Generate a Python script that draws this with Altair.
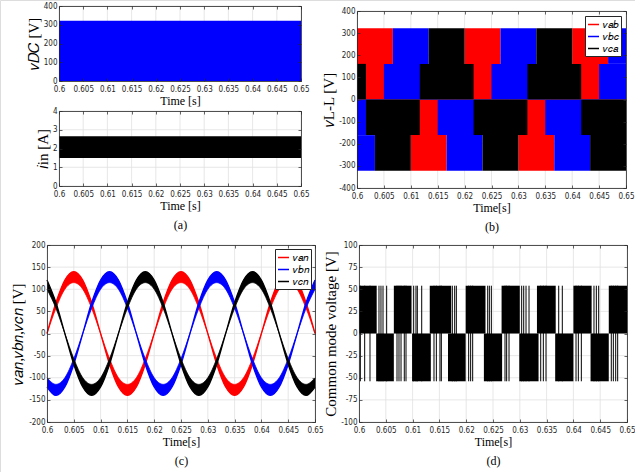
import altair as alt
import pandas as pd

FIG_W, FIG_H = 635, 472
INK = "#262626"
GRID = "#e1e1e1"
RED, BLUE, BLACK = "#ff0000", "#0000ff", "#000000"
LABEL_FONT = "Liberation Sans Narrow, DejaVu Sans Condensed, Liberation Sans"
SERIF = "Liberation Serif"

T_START, T_END = 0.6, 0.65
TIME_TICKS = [0.6, 0.605, 0.61, 0.615, 0.62, 0.625, 0.63, 0.635, 0.64, 0.645, 0.65]

# (a) DC side
VDC_BAND = [0, 322]
IIN_BAND = [1.5, 2.65]
VDC_TICKS = [0, 100, 200, 300, 400]
IIN_TICKS = [0, 1, 2, 3, 4]

# (b) line-to-line voltages: switching envelopes as time segments
LL_NAMES = ["𝑣𝑎𝑏", "𝑣𝑏𝑐", "𝑣𝑐𝑎"]
VAB_T0 = [0.6, 0.6, 0.60833, 0.61, 0.61833, 0.62, 0.62833, 0.63, 0.63833, 0.64, 0.64833]
VAB_T1 = [0.60833, 0.60667, 0.61833, 0.61667, 0.62833, 0.62667, 0.63833, 0.63667, 0.64833, 0.64667, 0.65]
VAB_LO = [0, 161, -161, -322, 0, 161, -161, -322, 0, 161, -161]
VAB_HI = [161, 322, 0, -161, 161, 322, 0, -161, 161, 322, 0]
VBC_T0 = [0.6, 0.6, 0.605, 0.60667, 0.615, 0.61667, 0.625, 0.62667, 0.635, 0.63667, 0.645, 0.64667]
VBC_T1 = [0.605, 0.60333, 0.615, 0.61333, 0.625, 0.62333, 0.635, 0.63333, 0.645, 0.64333, 0.65, 0.65]
VBC_LO = [-161, -322, 0, 161, -161, -322, 0, 161, -161, -322, 0, 161]
VBC_HI = [0, -161, 161, 322, 0, -161, 161, 322, 0, -161, 161, 322]
VCA_T0 = [0.6, 0.60167, 0.60333, 0.61167, 0.61333, 0.62167, 0.62333, 0.63167, 0.63333, 0.64167, 0.64333]
VCA_T1 = [0.60167, 0.61167, 0.61, 0.62167, 0.62, 0.63167, 0.63, 0.64167, 0.64, 0.65, 0.65]
VCA_LO = [0, -161, -322, 0, 161, -161, -322, 0, 161, -161, -322]
VCA_HI = [161, 0, -161, 161, 322, 0, -161, 161, 322, 0, -161]
LL_TICKS = [-400, -300, -200, -100, 0, 100, 200, 300, 400]

# (c) phase voltages: outer and inner ripple envelopes
PH_NAMES = ["𝑣𝑎𝑛", "𝑣𝑏𝑛", "𝑣𝑐𝑛"]
PH_T = [0.6, 0.60167, 0.60333, 0.605, 0.60667, 0.60833, 0.61, 0.61167, 0.61333, 0.615,
        0.61667, 0.61833, 0.62, 0.62167, 0.62333, 0.625, 0.62667, 0.62833, 0.63, 0.63167,
        0.63333, 0.635, 0.63667, 0.63833, 0.64, 0.64167, 0.64333, 0.645, 0.64667, 0.64833, 0.65]
VAN_OUT = [0, 70, 121, 140, 121, 70, 0, -70, -121, -140, -121, -70, 0, 70, 121, 140,
           121, 70, 0, -70, -121, -140, -121, -70, 0, 70, 121, 140, 121, 70, 0]
VAN_IN = [0, 57, 100, 115, 100, 57, 0, -57, -100, -115, -100, -57, 0, 57, 100, 115,
          100, 57, 0, -57, -100, -115, -100, -57, 0, 57, 100, 115, 100, 57, 0]
VBN_OUT = [-121, -140, -121, -70, 0, 70, 121, 140, 121, 70, 0, -70, -121, -140, -121, -70,
           0, 70, 121, 140, 121, 70, 0, -70, -121, -140, -121, -70, 0, 70, 121]
VBN_IN = [-100, -115, -100, -57, 0, 57, 100, 115, 100, 57, 0, -57, -100, -115, -100, -57,
          0, 57, 100, 115, 100, 57, 0, -57, -100, -115, -100, -57, 0, 57, 100]
VCN_OUT = [121, 70, 0, -70, -121, -140, -121, -70, 0, 70, 121, 140, 121, 70, 0, -70,
           -121, -140, -121, -70, 0, 70, 121, 140, 121, 70, 0, -70, -121, -140, -121]
VCN_IN = [100, 57, 0, -57, -100, -115, -100, -57, 0, 57, 100, 115, 100, 57, 0, -57,
          -100, -115, -100, -57, 0, 57, 100, 115, 100, 57, 0, -57, -100, -115, -100]
PH_TICKS = [-200, -150, -100, -50, 0, 50, 100, 150, 200]

# (d) common-mode voltage: solid blocks and isolated switching pulses
CM_LEVEL = 54
CM_UP_T0 = [0.6, 0.6065, 0.6132, 0.6199, 0.6266, 0.6332, 0.64, 0.6466]
CM_UP_T1 = [0.6033, 0.6098, 0.6172, 0.6236, 0.63, 0.6367, 0.6434, 0.65]
CM_DN_T0 = [0.6032, 0.6099, 0.6166, 0.6233, 0.6299, 0.6366, 0.6432]
CM_DN_T1 = [0.6065, 0.6134, 0.6199, 0.6267, 0.6335, 0.64, 0.6466]
CM_PULSES = [0.60025, 0.60106, 0.60205, 0.60373, 0.6041, 0.60448, 0.60516, 0.60709,
             0.60746, 0.60784, 0.60845, 0.60877, 0.6102, 0.61063, 0.61088, 0.6117,
             0.61399, 0.61443, 0.61511, 0.61536, 0.61741, 0.61785, 0.61816, 0.62046,
             0.62083, 0.62121, 0.62401, 0.62432, 0.62469, 0.62724, 0.62755, 0.62799,
             0.63035, 0.63073, 0.63116, 0.63172, 0.6339, 0.63439, 0.63489, 0.63726,
             0.63793, 0.64049, 0.64092, 0.64148, 0.64384, 0.64428, 0.64472, 0.64707,
             0.64745, 0.64789, 0.64826]
CM_TICKS = [-100, -75, -50, -25, 0, 25, 50, 75, 100]


def tick_axis(orient, offset, values):
    return alt.Axis(orient=orient, offset=offset, values=values, labels=False,
                    ticks=True, tickSize=3, tickColor=INK, tickWidth=0.7,
                    domain=True, domainColor=INK, domainWidth=0.8,
                    grid=False, title=None, zindex=2)


class Panel:
    """One MATLAB-style axes box placed at fixed pixel bounds of the figure."""

    def __init__(self, left, right, bottom, top, ydom, yticks):
        self.box = (left, right, bottom, top)
        self.yticks = yticks
        self.ydom = ydom
        self.xs = alt.Scale(domain=[T_START, T_END], range=[left, right], nice=False, zero=False)
        self.ys = alt.Scale(domain=ydom, range=[bottom, top], nice=False, zero=False)

    def X(self, field, axis=None):
        return alt.X(field, type="quantitative", scale=self.xs, axis=axis, title=None)

    def Y(self, field, axis=None):
        return alt.Y(field, type="quantitative", scale=self.ys, axis=axis, title=None, stack=None)

    def x_axis(self, title, pad):
        return alt.Axis(orient="bottom", offset=self.box[2] - FIG_H, values=TIME_TICKS,
                        labelExpr="toString(datum.value)", ticks=False, tickSize=0,
                        domain=False, grid=False, labelFont=LABEL_FONT, labelFontSize=8,
                        labelColor=INK, labelPadding=4, labelFlush=False, labelOverlap=False,
                        title=title, titleFont=SERIF, titleFontSize=12, titleFontWeight="normal",
                        titleColor="black", titlePadding=pad, titleLineHeight=19)

    def y_axis(self, title, pad):
        return alt.Axis(orient="left", offset=-self.box[0], values=self.yticks,
                        labelExpr="toString(datum.value)", ticks=False, tickSize=0,
                        domain=False, grid=False, labelFont=LABEL_FONT, labelFontSize=8,
                        labelColor=INK, labelPadding=2, labelFlush=False, labelOverlap=False,
                        title=title, titleFont=SERIF, titleFontSize=15, titleFontWeight="normal",
                        titleColor="black", titlePadding=pad)

    def frame_layers(self):
        left, right, bottom, top = self.box
        xg = pd.DataFrame({"t": TIME_TICKS, "lo": self.ydom[0], "hi": self.ydom[1]})
        yg = pd.DataFrame({"v": self.yticks, "lo": T_START, "hi": T_END})
        xgrid = alt.Chart(xg).mark_rule(color=GRID, strokeWidth=0.8).encode(
            x=self.X("t", tick_axis("top", -bottom, TIME_TICKS)),
            y=self.Y("lo", tick_axis("right", left - FIG_W, self.yticks)),
            y2="hi",
        )
        ygrid = alt.Chart(yg).mark_rule(color=GRID, strokeWidth=0.8).encode(
            y=self.Y("v", tick_axis("left", -right, self.yticks)),
            x=self.X("lo", tick_axis("bottom", top - FIG_H, TIME_TICKS)),
            x2="hi",
        )
        return [xgrid, ygrid]

    def compose(self, data_layers):
        return alt.layer(*self.frame_layers(), *data_layers).resolve_scale(
            x="shared", y="shared").resolve_axis(x="independent", y="independent")


def legend_at(x, y):
    return alt.Legend(title=None, orient="none", legendX=x, legendY=y, direction="vertical",
                      fillColor="white", strokeColor=INK, padding=2, cornerRadius=0,
                      symbolType="stroke", symbolSize=121, symbolStrokeWidth=1.5,
                      labelFont=SERIF, labelFontSize=10, labelColor="black",
                      labelOffset=3, rowPadding=0)


# ---- (a) top: DC-link voltage
pa1 = Panel(59, 301, 81, 6, [0, 400], VDC_TICKS)
a1_df = pd.DataFrame({"t0": [T_START], "t1": [T_END], "lo": [VDC_BAND[0]], "hi": [VDC_BAND[1]]})
a1 = pa1.compose([
    alt.Chart(a1_df).mark_rect(color=BLUE).encode(
        x=pa1.X("t0", pa1.x_axis("Time [s]", 2)), x2="t1",
        y=pa1.Y("lo", pa1.y_axis("𝑣𝐷𝐶 [V]", 2)), y2="hi")
])

# ---- (a) bottom: input current
pa2 = Panel(59, 301, 186, 111, [0, 4], IIN_TICKS)
a2_df = pd.DataFrame({"t0": [T_START], "t1": [T_END], "lo": [IIN_BAND[0]], "hi": [IIN_BAND[1]]})
a2 = pa2.compose([
    alt.Chart(a2_df).mark_rect(color=BLACK).encode(
        x=pa2.X("t0", pa2.x_axis(["Time [s]", "(a)"], 2)), x2="t1",
        y=pa2.Y("lo", pa2.y_axis("𝑖in [A]", 2)), y2="hi")
])

# ---- (b) line-to-line voltages, drawn red -> blue -> black
pb = Panel(357, 626, 188, 11, [-400, 400], LL_TICKS)
b_layers = []
for i, (color, t0s, t1s, los, his) in enumerate([
    (RED, VAB_T0, VAB_T1, VAB_LO, VAB_HI),
    (BLUE, VBC_T0, VBC_T1, VBC_LO, VBC_HI),
    (BLACK, VCA_T0, VCA_T1, VCA_LO, VCA_HI),
]):
    df = pd.DataFrame({"t0": t0s, "t1": t1s, "lo": los, "hi": his})
    xa = pb.x_axis(["Time[s]", "(b)"], 2) if i == 0 else None
    ya = pb.y_axis("𝑣L-L [V]", 2) if i == 0 else None
    b_layers.append(alt.Chart(df).mark_rect(color=color).encode(
        x=pb.X("t0", xa), x2="t1", y=pb.Y("lo", ya), y2="hi"))
b = pb.compose(b_layers)
# legend key for (b): one-point lines that only feed the legend
b_key_df = pd.DataFrame({"series": LL_NAMES, "t": [T_START] * 3, "v": [0] * 3})
b_key = alt.Chart(b_key_df).mark_line(strokeWidth=1.5).encode(
    x=pb.X("t"), y=pb.Y("v"),
    stroke=alt.Stroke("series:N", scale=alt.Scale(domain=LL_NAMES, range=[RED, BLUE, BLACK]),
                      legend=legend_at(585, 16)))

# ---- (c) phase voltages, drawn red -> blue -> black
pc = Panel(47, 315, 422, 245, [-200, 200], PH_TICKS)
c_layers = []
for i, (color, out, inn) in enumerate([
    (RED, VAN_OUT, VAN_IN),
    (BLUE, VBN_OUT, VBN_IN),
    (BLACK, VCN_OUT, VCN_IN),
]):
    df = pd.DataFrame({"t": PH_T, "outer": out, "inner": inn})
    xa = pc.x_axis(["Time[s]", "(c)"], 2) if i == 0 else None
    ya = pc.y_axis("𝑣𝑎𝑛,𝑣𝑏𝑛,𝑣𝑐𝑛 [V]", 3) if i == 0 else None
    c_layers.append(alt.Chart(df).mark_area(interpolate="monotone", orient="vertical",
                                            color=color).encode(
        x=pc.X("t", xa), y=pc.Y("outer", ya), y2="inner"))
    c_layers.append(alt.Chart(df).mark_line(interpolate="monotone", strokeWidth=1.3,
                                            color=color).encode(
        x=pc.X("t"), y=pc.Y("outer")))
    c_layers.append(alt.Chart(df).mark_line(interpolate="monotone", strokeWidth=0.8,
                                            color=color).encode(
        x=pc.X("t"), y=pc.Y("inner")))
c = pc.compose(c_layers)
c_key_df = pd.DataFrame({"phase": PH_NAMES, "t": [T_START] * 3, "v": [0] * 3})
c_key = alt.Chart(c_key_df).mark_line(strokeWidth=1.5).encode(
    x=pc.X("t"), y=pc.Y("v"),
    color=alt.Color("phase:N", scale=alt.Scale(domain=PH_NAMES, range=[RED, BLUE, BLACK]),
                    legend=legend_at(275, 249)))

# ---- (d) common-mode voltage
pd_ = Panel(359, 627, 422, 245, [-100, 100], CM_TICKS)
d_blocks = pd.DataFrame({
    "t0": CM_UP_T0 + CM_DN_T0,
    "t1": CM_UP_T1 + CM_DN_T1,
    "lo": [0] * len(CM_UP_T0) + [-CM_LEVEL] * len(CM_DN_T0),
    "hi": [CM_LEVEL] * len(CM_UP_T0) + [0] * len(CM_DN_T0),
})
d_pulses = pd.DataFrame({"t": CM_PULSES, "lo": -CM_LEVEL, "hi": CM_LEVEL})
d = pd_.compose([
    alt.Chart(d_blocks).mark_rect(color=BLACK).encode(
        x=pd_.X("t0", pd_.x_axis(["Time[s]", "(d)"], 2)), x2="t1",
        y=pd_.Y("lo", pd_.y_axis("Common mode voltage [V]", 2)), y2="hi"),
    alt.Chart(d_pulses).mark_rule(color=BLACK, strokeWidth=1).encode(
        x=pd_.X("t"), y=pd_.Y("lo"), y2="hi"),
])

chart = alt.layer(a1, a2, b, c, d, b_key, c_key).resolve_scale(
    x="independent", y="independent"
).resolve_axis(x="independent", y="independent").properties(
    width=FIG_W, height=FIG_H, padding=0,
    autosize=alt.AutoSizeParams(type="none"),
).configure_view(stroke=None).configure(background="white")

chart.save("out.html", embed_options={"renderer": "svg", "actions": False})
